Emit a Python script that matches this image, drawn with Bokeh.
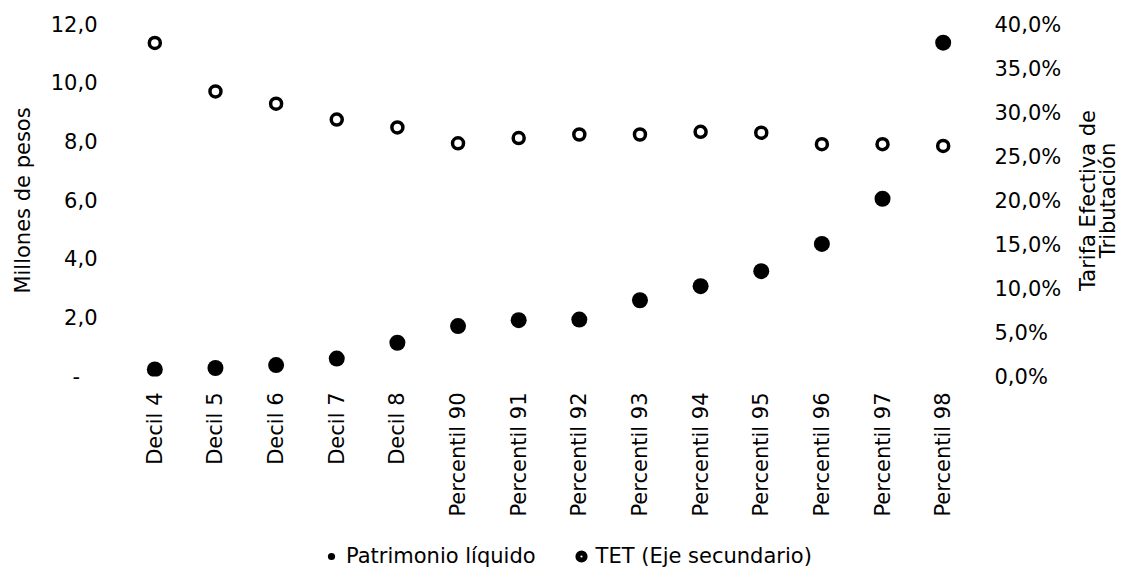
import math
from bokeh.plotting import figure
from bokeh.layouts import row, column
from bokeh.models import (FactorRange, Range1d, LinearAxis, FixedTicker, Legend,
                          LegendItem, ColumnDataSource)
from bokeh.embed import file_html
from bokeh.resources import INLINE

categories = ["Decil 4", "Decil 5", "Decil 6", "Decil 7", "Decil 8",
              "Percentil 90", "Percentil 91", "Percentil 92", "Percentil 93",
              "Percentil 94", "Percentil 95", "Percentil 96", "Percentil 97",
              "Percentil 98"]
patrimonio = [0.24, 0.29, 0.39, 0.61, 1.15, 1.72, 1.92, 1.94, 2.60, 3.08, 3.59,
              4.52, 6.06, 11.38]
tet = [37.9, 32.4, 31.0, 29.2, 28.3, 26.5, 27.1, 27.5, 27.5, 27.8, 27.7, 26.4,
       26.4, 26.2]

left_ticks = [0, 2, 4, 6, 8, 10, 12]
left_labels = ["-\u00a0\u00a0\u2009", "2,0", "4,0", "6,0", "8,0", "10,0", "12,0"]
right_ticks = [0, 5, 10, 15, 20, 25, 30, 35, 40]
right_labels = ["0,0%", "5,0%", "10,0%", "15,0%", "20,0%", "25,0%", "30,0%",
                "35,0%", "40,0%"]
series_names = ["Patrimonio líquido", "TET (Eje secundario)"]
left_title = "Millones de pesos"
right_title = "Tarifa Efectiva de\nTributación"

FONT = "DejaVu Sans"
FS = "21px"

src = ColumnDataSource(dict(cat=categories, pat=patrimonio, tet=tet))
xr = FactorRange(factors=categories, range_padding=0)

p = figure(x_range=xr, y_range=Range1d(0, 12), frame_width=849,
           frame_height=352, output_backend="svg", toolbar_location=None,
           min_border_left=124, min_border_right=92,
           min_border_top=24, min_border_bottom=145)
p.extra_y_ranges = {"tet": Range1d(0, 40)}
p.grid.visible = False
p.outline_line_color = None

MARK1 = dict(size=16, fill_color="black", line_color=None)
MARK2 = dict(size=11, fill_color="white", line_color="black", line_width=3.5)

p.scatter("cat", "pat", source=src, **MARK1)
p.scatter("cat", "tet", source=src, y_range_name="tet", **MARK2)

# left axis
ya = p.yaxis[0]
ya.ticker = FixedTicker(ticks=left_ticks)
ya.major_label_overrides = dict(zip(left_ticks, left_labels))
ya.axis_label = left_title
ya.axis_label_standoff = 13
ya.major_label_standoff = 27

# right axis (ticks only)
ra = LinearAxis(y_range_name="tet")
ra.ticker = FixedTicker(ticks=right_ticks)
ra.major_label_overrides = dict(zip(right_ticks, right_labels))
ra.major_label_standoff = 21
p.add_layout(ra, "right")

# x axis
xa = p.xaxis[0]
xa.major_label_orientation = math.pi / 2
xa.major_label_standoff = 16

# narrow strip on the right carrying the secondary axis title
p3 = figure(frame_width=2, frame_height=352, x_range=Range1d(0, 1),
            y_range=Range1d(0, 1), output_backend="svg", toolbar_location=None,
            x_axis_location=None, y_axis_location="left",
            min_border_left=56, min_border_right=0, min_border_top=24,
            min_border_bottom=145)
p3.grid.visible = False
p3.outline_line_color = None
ta = p3.yaxis[0]
ta.ticker = FixedTicker(ticks=[])
ta.axis_label = right_title
ta.axis_label_standoff = 2
ta.major_label_standoff = 0
ta.axis_label_text_line_height = 0.83

for ax in [xa, ya, ra, ta]:
    ax.axis_line_color = None
    ax.major_tick_line_color = None
    ax.minor_tick_line_color = None
    ax.major_tick_out = 0
    ax.major_tick_in = 0
    ax.minor_tick_out = 0
    ax.minor_tick_in = 0
    ax.major_label_text_font = FONT
    ax.major_label_text_font_size = FS
    ax.major_label_text_color = "black"
    ax.axis_label_text_font = FONT
    ax.axis_label_text_font_size = FS
    ax.axis_label_text_font_style = "normal"
    ax.axis_label_text_color = "black"

# legend strip below the chart (its proxy marks fall outside its y range)
p2 = figure(x_range=xr, y_range=Range1d(1000, 1001), frame_width=849,
            frame_height=47, output_backend="svg", toolbar_location=None,
            x_axis_location=None, y_axis_location=None,
            min_border_left=124, min_border_right=150,
            min_border_top=0, min_border_bottom=0)
p2.grid.visible = False
p2.outline_line_color = None
e1 = p2.scatter("cat", "pat", source=src, **MARK1)
e2 = p2.scatter("cat", "tet", source=src, size=11, fill_color="white",
                line_color="black", line_width=5)
legend = Legend(items=[LegendItem(label=series_names[0], renderers=[e1]),
                       LegendItem(label=series_names[1], renderers=[e2])],
                location=(198, 0), orientation="horizontal",
                glyph_width=18, glyph_height=18, label_standoff=6, spacing=36,
                padding=0, margin=0, border_line_color=None,
                background_fill_alpha=0, label_text_font=FONT,
                label_text_font_size=FS, label_text_color="black")
p2.add_layout(legend)

layout = column(row(p, p3, spacing=0), p2, spacing=0)
open("out.html", "w").write(file_html(layout, INLINE))
